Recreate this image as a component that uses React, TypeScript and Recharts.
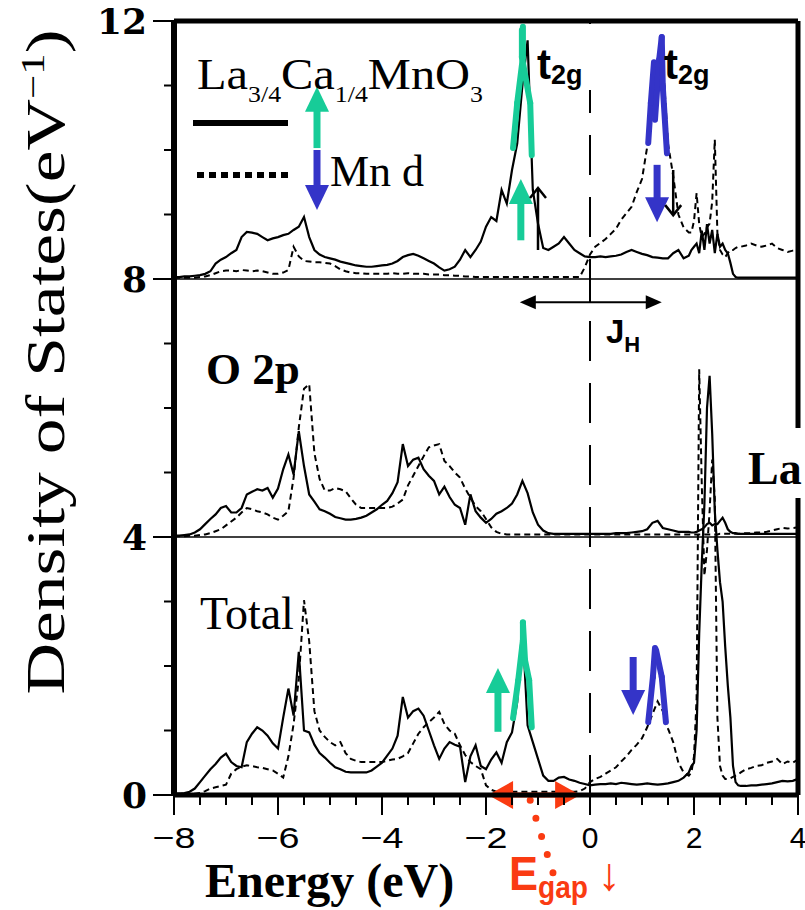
import React from "react"
import { ComposedChart, Line, XAxis, YAxis, ReferenceLine } from "recharts"

// energy grid (eV); finer steps around the La spike
const energy = [
  -8, -7.9, -7.8, -7.7, -7.6, -7.5, -7.4, -7.3, -7.2, -7.1,
  -7, -6.9, -6.8, -6.7, -6.6, -6.5, -6.4, -6.3, -6.2, -6.1,
  -6, -5.9, -5.8, -5.7, -5.6, -5.5, -5.4, -5.3, -5.2, -5.1,
  -5, -4.9, -4.8, -4.7, -4.6, -4.5, -4.4, -4.3, -4.2, -4.1,
  -4, -3.9, -3.8, -3.7, -3.6, -3.5, -3.4, -3.3, -3.2, -3.1,
  -3, -2.9, -2.8, -2.7, -2.6, -2.5, -2.4, -2.3, -2.2, -2.1,
  -2, -1.9, -1.8, -1.7, -1.6, -1.5, -1.4, -1.3, -1.2, -1.1,
  -1, -0.9, -0.8, -0.7, -0.6, -0.5, -0.4, -0.3, -0.2, -0.1,
  0, 0.1, 0.2, 0.3, 0.4, 0.5, 0.6, 0.7, 0.8, 0.9,
  1, 1.1, 1.2, 1.3, 1.4, 1.5, 1.6, 1.7, 1.8, 1.9,
  1.95, 2, 2.05, 2.1, 2.15, 2.2, 2.25, 2.3, 2.35, 2.4,
  2.45, 2.5, 2.55, 2.6, 2.65, 2.7, 2.75, 2.8, 2.85, 2.9,
  3, 3.1, 3.2, 3.3, 3.4, 3.5, 3.6, 3.7, 3.8, 3.9,
  4,
]

// bottom panel: Total (baseline 0)
const totalSolid = [
  0.02, 0.02, 0.03, 0.05, 0.1, 0.2, 0.3, 0.4, 0.48, 0.58,
  0.64, 0.51, 0.45, 0.43, 0.82, 0.95, 1.05, 1.0, 0.92, 0.8,
  0.72, 1.2, 1.65, 1.23, 2.22, 1.0, 0.97, 0.78, 0.65, 0.58,
  0.5, 0.43, 0.4, 0.36, 0.35, 0.35, 0.35, 0.35, 0.38, 0.44,
  0.5, 0.61, 0.72, 0.92, 1.52, 1.2, 1.3, 1.34, 1.23, 1.0,
  0.77, 0.56, 0.72, 0.82, 0.78, 0.75, 0.2, 0.6, 0.77, 0.45,
  0.4, 0.55, 0.66, 0.5, 0.82, 0.97, 1.44, 2.65, 1.08, 0.82,
  0.56, 0.3, 0.22, 0.22, 0.27, 0.28, 0.24, 0.22, 0.19, 0.17,
  0.15, 0.16, 0.17, 0.17, 0.18, 0.17, 0.19, 0.18, 0.17, 0.16,
  0.17, 0.18, 0.17, 0.16, 0.17, 0.18, 0.2, 0.22, 0.27, 0.35,
  0.45, 0.5, 1.0, 2.5, 3.6, 4.5, 6.0, 6.5, 5.6, 4.4,
  3.8, 3.3, 3.0, 2.3, 1.7, 1.2, 0.45, 0.2, 0.15, 0.14,
  0.14, 0.15, 0.15, 0.16, 0.17, 0.18, 0.2, 0.22, 0.21, 0.22,
  0.25,
]
const totalDashed = [
  0.02, 0.02, 0.02, 0.02, 0.02, 0.03, 0.06, 0.1, 0.12, 0.14,
  0.16, 0.33, 0.4, 0.44, 0.46, 0.45, 0.43, 0.42, 0.4, 0.38,
  0.33, 0.27, 0.6, 1.1, 1.8, 3.02, 2.38, 1.3, 1.0, 0.9,
  0.82, 0.77, 0.82, 0.65, 0.56, 0.53, 0.51, 0.51, 0.51, 0.51,
  0.51, 0.53, 0.55, 0.56, 0.6, 0.65, 0.8, 0.95, 1.05, 1.13,
  1.2, 1.29, 1.1, 1.0, 0.95, 0.77, 0.62, 0.51, 0.45, 0.4,
  0.15, 0.08, 0.05, 0.05, 0.05, 0.05, 0.05, 0.05, 0.05, 0.05,
  0.05, 0.05, 0.05, 0.05, 0.05, 0.05, 0.05, 0.05, 0.06, 0.1,
  0.2, 0.25, 0.28, 0.33, 0.38, 0.43, 0.52, 0.6, 0.7, 0.78,
  0.88, 1.05, 1.25, 1.45, 1.3, 1.03, 0.82, 0.5, 0.35, 0.3,
  0.35, 0.6, 1.5, 6.6, 4.8, 3.4, 3.8, 4.4, 5.2, 4.6,
  1.2, 0.45, 0.3, 0.25, 0.25, 0.26, 0.28, 0.3, 0.32, 0.35,
  0.4, 0.42, 0.45, 0.46, 0.5, 0.52, 0.56, 0.48, 0.52, 0.5,
  0.55,
]

// middle panel: O 2p (baseline 4)
const o2pSolid = [
  0.02, 0.02, 0.03, 0.04, 0.07, 0.12, 0.2, 0.28, 0.35, 0.45,
  0.48, 0.38, 0.38, 0.45, 0.66, 0.7, 0.74, 0.72, 0.76, 0.61,
  0.75, 1.05, 1.28, 0.97, 1.64, 1.1, 0.66, 0.55, 0.43, 0.4,
  0.36, 0.31, 0.29, 0.27, 0.27, 0.28, 0.3, 0.33, 0.38, 0.43,
  0.5, 0.56, 0.68, 0.85, 1.44, 1.1, 1.2, 1.23, 1.05, 0.95,
  0.87, 0.66, 0.78, 0.62, 0.5, 0.45, 0.19, 0.66, 0.4, 0.3,
  0.22, 0.28, 0.36, 0.4, 0.45, 0.52, 0.66, 0.87, 0.68, 0.38,
  0.19, 0.1, 0.06, 0.05, 0.05, 0.05, 0.05, 0.05, 0.05, 0.05,
  0.05, 0.05, 0.05, 0.05, 0.05, 0.06, 0.06, 0.06, 0.07, 0.08,
  0.09, 0.12, 0.22, 0.25, 0.14, 0.12, 0.1, 0.08, 0.08, 0.08,
  0.07, 0.07, 0.08, 0.1, 0.12, 0.15, 0.2, 0.22, 0.18, 0.2,
  0.2, 0.25, 0.3, 0.22, 0.12, 0.08, 0.06, 0.06, 0.05, 0.05,
  0.05, 0.05, 0.05, 0.05, 0.05, 0.05, 0.05, 0.05, 0.05, 0.05,
  0.05,
]
const o2pDashed = [
  0.01, 0.01, 0.01, 0.02, 0.02, 0.03, 0.04, 0.06, 0.09, 0.12,
  0.18, 0.24, 0.3, 0.38, 0.45, 0.43, 0.4, 0.38, 0.35, 0.3,
  0.27, 0.33, 0.4, 0.92, 1.7, 2.3, 2.37, 1.3, 0.9, 0.72,
  0.72, 0.76, 0.74, 0.71, 0.6, 0.5, 0.45, 0.45, 0.45, 0.45,
  0.45, 0.45, 0.47, 0.52, 0.58, 0.8, 0.95, 1.1, 1.25, 1.39,
  1.42, 1.44, 1.18, 1.1, 1.0, 0.92, 0.75, 0.61, 0.48, 0.4,
  0.28, 0.15, 0.08, 0.05, 0.04, 0.04, 0.04, 0.04, 0.04, 0.04,
  0.04, 0.04, 0.04, 0.04, 0.04, 0.04, 0.04, 0.04, 0.04, 0.04,
  0.04, 0.04, 0.04, 0.04, 0.04, 0.04, 0.04, 0.04, 0.04, 0.04,
  0.04, 0.04, 0.04, 0.04, 0.04, 0.04, 0.04, 0.04, 0.04, 0.04,
  0.04, 0.04, 0.04, 0.04, 0.04, 0.04, 0.04, 0.04, 0.04, 0.04,
  0.04, 0.05, 0.05, 0.05, 0.05, 0.05, 0.05, 0.05, 0.05, 0.05,
  0.06, 0.06, 0.07, 0.07, 0.08, 0.1, 0.12, 0.14, 0.13, 0.14,
  0.15,
]

// top panel: Mn d (baseline 8)
const mnSolid = [
  0.03, 0.03, 0.04, 0.04, 0.05, 0.06, 0.08, 0.12, 0.24, 0.3,
  0.34, 0.4, 0.45, 0.65, 0.73, 0.72, 0.7, 0.65, 0.6, 0.63,
  0.65, 0.68, 0.7, 0.76, 0.81, 0.96, 0.65, 0.45, 0.38, 0.34,
  0.32, 0.3, 0.27, 0.25, 0.23, 0.21, 0.2, 0.19, 0.19, 0.2,
  0.21, 0.22, 0.24, 0.28, 0.34, 0.37, 0.39, 0.36, 0.32, 0.28,
  0.24, 0.18, 0.13, 0.15, 0.19, 0.3, 0.45, 0.34, 0.45, 0.58,
  0.81, 0.96, 0.9, 1.38, 1.17, 1.69, 2.1, 3.0, 3.7, 1.38,
  0.86, 0.48, 0.45, 0.5, 0.55, 0.65, 0.55, 0.45, 0.4, 0.35,
  0.34, 0.34, 0.35, 0.34, 0.35, 0.36, 0.38, 0.42, 0.45, 0.42,
  0.39, 0.37, 0.34, 0.33, 0.32, 0.32, 0.4, 0.45, 0.32, 0.36,
  0.45, 0.5, 0.55, 0.4, 0.75, 0.45, 0.85, 0.55, 0.76, 0.4,
  0.7, 0.5, 0.55, 0.45, 0.4, 0.25, 0.08, 0.03, 0.02, 0.02,
  0.02, 0.02, 0.02, 0.02, 0.02, 0.02, 0.02, 0.02, 0.02, 0.02,
  0.02,
]
const mnDashed = [
  0.02, 0.02, 0.02, 0.02, 0.02, 0.03, 0.04, 0.06, 0.09, 0.12,
  0.13, 0.13, 0.12, 0.14, 0.13, 0.12, 0.13, 0.12, 0.1, 0.08,
  0.08, 0.1, 0.14, 0.5, 0.35, 0.28, 0.27, 0.26, 0.26, 0.25,
  0.24, 0.2, 0.15, 0.12, 0.1, 0.09, 0.09, 0.08, 0.08, 0.08,
  0.08, 0.08, 0.09, 0.08, 0.08, 0.09, 0.08, 0.08, 0.08, 0.07,
  0.07, 0.07, 0.06, 0.06, 0.05, 0.05, 0.04, 0.04, 0.03, 0.03,
  0.03, 0.03, 0.03, 0.03, 0.03, 0.03, 0.03, 0.03, 0.03, 0.03,
  0.03, 0.03, 0.03, 0.03, 0.03, 0.03, 0.03, 0.03, 0.03, 0.18,
  0.38, 0.5, 0.56, 0.62, 0.7, 0.78, 0.92, 1.02, 1.12, 1.35,
  1.55, 2.05, 2.6, 3.2, 3.4, 2.1, 1.6, 1.0, 0.8, 0.72,
  0.72, 0.9, 1.33, 0.85, 0.65, 0.7, 0.8, 0.86, 1.2, 2.16,
  0.71, 0.45, 0.38, 0.34, 0.4, 0.45, 0.45, 0.48, 0.5, 0.5,
  0.52, 0.55, 0.52, 0.5, 0.52, 0.55, 0.48, 0.45, 0.42, 0.44,
  0.45,
]

const xTicks = [-8, -7.5, -7, -6.5, -6, -5.5, -5, -4.5, -4, -3.5, -3, -2.5, -2, -1.5, -1, -0.5, 0, 0.5, 1, 1.5, 2, 2.5, 3, 3.5, 4]
const yTicks = [0, 1, 2, 3, 4, 5, 6, 7, 8, 9, 10, 11, 12]

// annotation arrows / hand-drawn strokes, in (energy, DOS) coordinates
const greenArrows = [
  [[-5.25, 10.03], [-5.25, 10.98]],
  [[-1.33, 8.6], [-1.33, 9.55]],
  [[-1.77, 0.98], [-1.77, 1.97]],
]
const blueArrows = [
  [[-5.25, 10.0], [-5.25, 9.07]],
  [[1.29, 9.77], [1.29, 8.88]],
  [[0.83, 2.14], [0.83, 1.24]],
]
const blackArrows = [
  [[-1.0, 8.45], [-1.0, 9.41]],
  [[1.6, 9.69], [1.6, 8.99]],
]
const greenStrokes = [
  [[-1.48, 10.03], [-1.4, 10.73], [-1.29, 11.44], [-1.29, 11.91]],
  [[-1.31, 11.86], [-1.31, 11.44], [-1.15, 10.73], [-1.12, 9.92]],
  [[-1.48, 1.19], [-1.38, 1.78], [-1.29, 2.4], [-1.29, 2.68]],
  [[-1.29, 2.67], [-1.25, 2.09], [-1.17, 1.78], [-1.12, 1.05]],
]
const blueStrokes = [
  [[1.12, 10.11], [1.17, 10.73], [1.23, 11.36]],
  [[1.25, 10.47], [1.33, 11.4], [1.38, 11.75], [1.4, 10.98], [1.48, 9.95]],
  [[1.12, 1.13], [1.21, 1.83], [1.25, 2.28]],
  [[1.27, 2.25], [1.38, 1.83], [1.46, 1.13]],
]
const jhArrow = [[-1.35, 7.64], [1.38, 7.64]]
const gapArrow = [[-1.96, 0], [-0.19, 0]]
const gapDots = [[-1.15, -0.08], [-0.71, -1.21]]

const GREEN = "#17cc98"
const BLUE = "#3434c8"
const RED = "#fa3b12"
const serif = "'Liberation Serif', 'Times New Roman', serif"
const sans = "'Liberation Sans', Arial, sans-serif"

const data = energy.map((e, i) => ({
  e,
  totalSolid: totalSolid[i],
  totalDashed: totalDashed[i],
  o2pSolid: 4 + o2pSolid[i],
  o2pDashed: 4 + o2pDashed[i],
  mnSolid: 8 + mnSolid[i],
  mnDashed: 8 + mnDashed[i],
}))

type ArrowOpts = { color: string; width: number; head: number; half: number; both?: boolean; open?: boolean }

function arrowShape(o: ArrowOpts) {
  return (p: any) => {
    const { x1, y1, x2, y2 } = p
    const len = Math.hypot(x2 - x1, y2 - y1) || 1
    const ux = (x2 - x1) / len
    const uy = (y2 - y1) / len
    const px = -uy
    const py = ux
    const head = (tx: number, ty: number, sx: number, sy: number) => {
      const bx = tx - sx * o.head
      const by = ty - sy * o.head
      return `${bx + px * o.half},${by + py * o.half} ${tx},${ty} ${bx - px * o.half},${by - py * o.half}`
    }
    const back = o.open ? 0 : o.head * 0.8
    const sx1 = o.both ? x1 + ux * back : x1
    const sy1 = o.both ? y1 + uy * back : y1
    return (
      <g>
        <line x1={sx1} y1={sy1} x2={x2 - ux * back} y2={y2 - uy * back} stroke={o.color} strokeWidth={o.width} />
        {o.open ? (
          <polyline points={head(x2, y2, ux, uy)} fill="none" stroke={o.color} strokeWidth={o.width} />
        ) : (
          <polygon points={head(x2, y2, ux, uy)} fill={o.color} />
        )}
        {o.both && !o.open && <polygon points={head(x1, y1, -ux, -uy)} fill={o.color} />}
      </g>
    )
  }
}

function strokeShape(color: string, width: number, dash?: string) {
  return (p: any) => (
    <line x1={p.x1} y1={p.y1} x2={p.x2} y2={p.y2} stroke={color} strokeWidth={width}
      strokeLinecap="round" strokeDasharray={dash} />
  )
}

function seg(pts: number[][]) {
  return [{ x: pts[0][0], y: pts[0][1] }, { x: pts[1][0], y: pts[1][1] }]
}

function XTick(props: any) {
  const { x, y, payload } = props
  const v = payload.value
  const major = v % 2 === 0
  const label = v < 0 ? `\u2212${-v}` : `${v}`
  return (
    <g>
      <line x1={x} x2={x} y1={y} y2={y + (major ? 20 : 10)} stroke="#000" strokeWidth={2} />
      {major && (
        <text x={x} y={y + 53} textAnchor="middle" fontFamily={sans} fontSize={30} fill="#000"
          textLength={v < 0 ? 43 : undefined} lengthAdjust="spacingAndGlyphs">{label}</text>
      )}
    </g>
  )
}

function YTick(props: any) {
  const { x, y, payload } = props
  const v = payload.value
  const major = v % 4 === 0
  return (
    <g>
      <line x1={x - (major ? 21 : 10)} x2={x} y1={y} y2={y} stroke="#000" strokeWidth={2} />
      {major && (
        <text x={x - 27} y={y + 13} textAnchor="end" fontFamily="'DejaVu Serif', serif" fontWeight="bold"
          fontSize={36} fill="#000">{v}</text>
      )}
    </g>
  )
}

export default function App() {
  const green = arrowShape({ color: GREEN, width: 7, head: 25, half: 12 })
  const blue = arrowShape({ color: BLUE, width: 7, head: 25, half: 12 })
  const black = arrowShape({ color: "#000", width: 2.5, head: 10, half: 8, open: true })
  return (
    <div style={{ position: "absolute", left: 0, top: 0, width: 805, height: 910, background: "#fff", overflow: "hidden" }}>
      <ComposedChart width={805} height={910} data={data} margin={{ top: 21, right: 7, bottom: 0, left: 0 }}>
        <XAxis dataKey="e" type="number" domain={[-8, 4]} ticks={xTicks} interval={0} height={115}
          tickSize={0} tickMargin={0} tickLine={false} axisLine={{ stroke: "#000", strokeWidth: 5 }} tick={XTick} />
        <YAxis type="number" domain={[0, 12]} ticks={yTicks} interval={0} width={174}
          tickSize={0} tickMargin={0} tickLine={false} axisLine={{ stroke: "#000", strokeWidth: 6 }} tick={YTick} />

        <Line dataKey="totalDashed" type="linear" stroke="#000" strokeWidth={2} strokeDasharray="6 4" dot={false} activeDot={false} isAnimationActive={false} />
        <Line dataKey="totalSolid" type="linear" stroke="#000" strokeWidth={2.2} dot={false} activeDot={false} isAnimationActive={false} />
        <Line dataKey="o2pDashed" type="linear" stroke="#000" strokeWidth={2} strokeDasharray="6 4" dot={false} activeDot={false} isAnimationActive={false} />
        <Line dataKey="o2pSolid" type="linear" stroke="#000" strokeWidth={2.2} dot={false} activeDot={false} isAnimationActive={false} />
        <Line dataKey="mnDashed" type="linear" stroke="#000" strokeWidth={2} strokeDasharray="6 4" dot={false} activeDot={false} isAnimationActive={false} />
        <Line dataKey="mnSolid" type="linear" stroke="#000" strokeWidth={2.2} dot={false} activeDot={false} isAnimationActive={false} />

        <ReferenceLine y={12} stroke="#000" strokeWidth={5} ifOverflow="visible" />
        <ReferenceLine x={4} stroke="#000" strokeWidth={5} ifOverflow="visible" />
        <ReferenceLine y={8} stroke="#000" strokeWidth={1.6} />
        <ReferenceLine y={4} stroke="#000" strokeWidth={1.6} />
        <ReferenceLine x={0} stroke="#000" strokeWidth={2} strokeDasharray="40 22" />
        <ReferenceLine segment={[{ x: 0, y: 7.64 }, { x: 0, y: 8.29 }]} stroke="#000" strokeWidth={2} ifOverflow="visible" />

        {greenStrokes.flatMap((s, i) =>
          s.slice(1).map((pt, j) => (
            <ReferenceLine key={`gs${i}-${j}`} segment={seg([s[j], pt])} ifOverflow="visible" shape={strokeShape(GREEN, 6)} />
          ))
        )}
        {blueStrokes.flatMap((s, i) =>
          s.slice(1).map((pt, j) => (
            <ReferenceLine key={`bs${i}-${j}`} segment={seg([s[j], pt])} ifOverflow="visible" shape={strokeShape(BLUE, 6)} />
          ))
        )}
        {greenArrows.map((a, i) => (
          <ReferenceLine key={`ga${i}`} segment={seg(a)} ifOverflow="visible" shape={green} />
        ))}
        {blueArrows.map((a, i) => (
          <ReferenceLine key={`ba${i}`} segment={seg(a)} ifOverflow="visible" shape={blue} />
        ))}
        {blackArrows.map((a, i) => (
          <ReferenceLine key={`ka${i}`} segment={seg(a)} ifOverflow="visible" shape={black} />
        ))}
        <ReferenceLine segment={seg(jhArrow)} ifOverflow="visible"
          shape={arrowShape({ color: "#000", width: 2, head: 16, half: 7, both: true })} />
        <ReferenceLine segment={seg(gapArrow)} ifOverflow="visible"
          shape={arrowShape({ color: RED, width: 5, head: 25, half: 14, both: true })} />
        <ReferenceLine segment={seg(gapDots)} ifOverflow="visible" shape={strokeShape(RED, 7, "0 19")} />
      </ComposedChart>

      <svg width={805} height={910} style={{ position: "absolute", left: 0, top: 0, pointerEvents: "none" }}>
        {/* axis titles */}
        <text transform="translate(64,362) rotate(-90)" textAnchor="middle" fontFamily={serif} fontSize={55}
          textLength={665} lengthAdjust="spacingAndGlyphs" fill="#000">
          Density of States(eV<tspan fontSize={33} dy={-20}>{"\u22121"}</tspan><tspan dy={20}>)</tspan>
        </text>
        <text x={205} y={897} fontFamily={serif} fontWeight="bold" fontSize={48} fill="#000">Energy (eV)</text>

        {/* legend */}
        <text x={197} y={89} fontFamily={serif} fontSize={45} fill="#000" textLength={286} lengthAdjust="spacingAndGlyphs">
          La<tspan fontSize={24} dy={13}>3/4</tspan><tspan dy={-13}>Ca</tspan><tspan fontSize={24} dy={13}>1/4</tspan>
          <tspan dy={-13}>MnO</tspan><tspan fontSize={24} dy={13}>3</tspan>
        </text>
        <line x1={193} x2={288} y1={123} y2={123} stroke="#000" strokeWidth={6} />
        <line x1={197} x2={292} y1={175} y2={175} stroke="#000" strokeWidth={6} strokeDasharray="7 5" />
        <text x={330} y={186} fontFamily={serif} fontSize={44} fill="#000">Mn d</text>

        {/* panel labels */}
        <text x={206} y={384} fontFamily={serif} fontWeight="bold" fontSize={45} fill="#000">O 2p</text>
        <text x={200} y={629} fontFamily={serif} fontSize={46} fill="#000">Total</text>
        <rect x={742} y={428} width={63} height={70} fill="#fff" />
        <text x={748} y={484} fontFamily={serif} fontWeight="bold" fontSize={46} fill="#000">La</text>

        {/* t2g labels */}
        <rect x={534} y={24} width={60} height={66} fill="#fff" />
        <text x={537} y={79} fontFamily={sans} fontWeight="bold" fontSize={42} fill="#000">
          t<tspan fontSize={27} dy={5}>2g</tspan>
        </text>
        <text x={664} y={79} fontFamily={sans} fontWeight="bold" fontSize={42} fill="#000">
          t<tspan fontSize={27} dy={5}>2g</tspan>
        </text>

        {/* J_H */}
        <text x={606} y={343} fontFamily={sans} fontWeight="bold" fontSize={33} fill="#000">
          J<tspan fontSize={22} dy={9}>H</tspan>
        </text>

        {/* E_gap */}
        <text x={509} y={890} fontFamily={sans} fontWeight="bold" fontSize={48} fill={RED} textLength={79} lengthAdjust="spacingAndGlyphs">
          E<tspan fontSize={31} dy={8}>gap</tspan>
        </text>
        <text x={609} y={890} textAnchor="middle" fontFamily={sans} fontSize={46} fill={RED}>{"\u2193"}</text>
      </svg>
    </div>
  )
}
